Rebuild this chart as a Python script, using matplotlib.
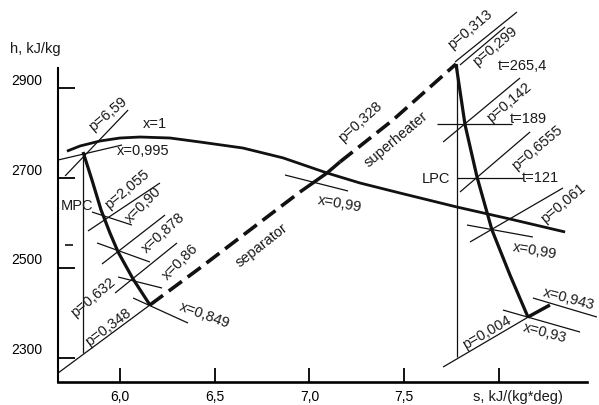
import matplotlib
matplotlib.use("Agg")
import matplotlib.pyplot as plt
from matplotlib.transforms import ScaledTranslation

plt.rcParams['font.family'] = ['Liberation Sans', 'DejaVu Sans']

# ---------------- data (s in kJ/(kg*deg), h in kJ/kg) ----------------
sat_s = [5.720, 5.789, 5.894, 6.000, 6.106, 6.264, 6.422, 6.649, 6.861, 7.093, 7.267, 7.478, 7.779, 8.059, 8.350]
sat_h = [2760.0, 2771.5, 2782.6, 2789.3, 2791.5, 2789.3, 2780.4, 2767.0, 2745.0, 2711.4, 2689.1, 2666.8, 2635.6, 2608.9, 2580.0]

x995_s = [5.673, 6.011]
x995_h = [2740.3, 2773.7]

p659_s = [5.710, 6.043]
p659_h = [2704.7, 2851.7]

mpc_s = [5.805, 5.852, 5.900, 5.947, 5.990, 6.069, 6.158]
mpc_h = [2758.1, 2695.8, 2629.0, 2577.7, 2535.4, 2475.3, 2417.4]
mpc_vert_s = [5.805, 5.805]
mpc_vert_h = [2758.1, 2310.5]

mpc_isobar_s = [[5.831, 6.211], [5.905, 6.238], [5.974, 6.301], [5.673, 6.158]]
mpc_isobar_h = [[2582.2, 2689.1], [2508.7, 2617.8], [2444.1, 2555.5], [2265.9, 2417.4]]
mpc_xline_s = [[5.852, 6.063], [5.879, 6.158], [5.990, 6.222], [6.069, 6.359]]
mpc_xline_h = [[2624.5, 2595.5], [2555.5, 2513.1], [2479.7, 2455.2], [2433.0, 2377.3]]

sep_s = [6.158, 6.422, 6.686, 6.950]
sep_h = [2417.4, 2499.8, 2584.4, 2669.0]
dry_s = [6.950, 7.093, 7.161]
dry_h = [2669.0, 2711.4, 2735.9]
sh_s = [7.161, 7.441, 7.774]
sh_h = [2735.9, 2829.4, 2954.1]
mid_x99_s = [6.871, 7.204]
mid_x99_h = [2706.9, 2671.3]

lpc_s = [7.774, 7.822, 7.885, 7.964, 8.059, 8.154]
lpc_h = [2954.1, 2818.3, 2702.5, 2584.4, 2484.2, 2390.6]
end_s = [8.154, 8.270]
end_h = [2390.6, 2417.4]
lpc_vert_s = [7.777, 7.777]
lpc_vert_h = [2954.1, 2301.6]

lpc_isobar_s = [[7.769, 8.096], [7.795, 8.033], [7.706, 8.112], [7.795, 8.165], [7.848, 8.339], [7.706, 8.165]]
lpc_isobar_h = [[2958.6, 3069.9], [2951.9, 3036.5], [2780.4, 2922.9], [2669.0, 2802.7], [2557.7, 2678.0], [2279.3, 2392.9]]
lpc_isotherm_s = [[7.674, 8.070], [7.779, 8.127]]
lpc_isotherm_h = [[2820.5, 2820.5], [2700.2, 2700.2]]
lpc_xline_s = [[7.832, 8.180], [8.180, 8.518], [8.022, 8.429]]
lpc_xline_h = [[2595.5, 2568.8], [2433.0, 2390.6], [2406.2, 2357.2]]

dash_s = [5.711, 5.753]
dash_h = [2551.0, 2551.0]

label_text = ["x=1", "x=0,995", "p=6,59", "MPC", "p=2,055", "x=0,90", "x=0,878", "x=0,86",
              "x=0,849", "p=0,632", "p=0,348", "separator", "x=0,99", "p=0,328", "superheater",
              "p=0,313", "p=0,299", "t=265,4", "p=0,142", "t=189", "LPC", "p=0,6555", "t=121",
              "p=0,061", "x=0,99", "x=0,943", "x=0,93", "p=0,004"]
label_s = [6.185, 6.121, 5.937, 5.773, 6.037, 6.121, 6.227, 6.317,
           6.449, 5.858, 5.937, 6.750, 7.162, 7.267, 7.457,
           7.848, 7.980, 8.123, 8.054, 8.154, 7.668, 8.202, 8.218,
           8.339, 8.191, 8.371, 8.244, 7.938]
label_h = [2820.5, 2760.4, 2842.8, 2637.9, 2675.7, 2640.1, 2577.7, 2513.1,
           2395.1, 2435.2, 2368.4, 2551.0, 2642.3, 2824.9, 2784.9,
           3029.9, 2994.2, 2949.7, 2869.5, 2831.6, 2698.0, 2767.0, 2700.2,
           2644.5, 2537.6, 2430.7, 2355.0, 2355.0]
label_rot = [0, 0, 40, 0, 40, 45, 42, 45,
             -20, 40, 37, 38, -10, 42, 40,
             40, 40, 0, 40, 0, 0, 40, 0,
             40, -10, -15, -15, 30]

xticks = [6.0, 6.5, 7.0, 7.5, 8.0]
xtick_labels = ["6,0", "6,5", "7,0", "7,5", ""]
yticks = [2300, 2500, 2700, 2900]
ytick_labels = ["2300", "2500", "2700", "2900"]

# ---------------- figure ----------------
fig = plt.figure(figsize=(5.99, 4.05), dpi=100)
ax = fig.add_axes([58 / 599, 23 / 405, 529 / 599, 314 / 405])
ax.set_xlim(5.6727, 8.4657)
ax.set_ylim(2245.9, 2945.2)

K = '#111111'
THIN = 0.9

def line(s, h, lw=THIN, **kw):
    ax.plot(s, h, color=K, lw=lw, clip_on=False, solid_capstyle='butt',
            solid_joinstyle='round', **kw)

line(sat_s, sat_h, lw=2.0)
line(x995_s, x995_h)
line(p659_s, p659_h)
line(mpc_vert_s, mpc_vert_h)
line(lpc_vert_s, lpc_vert_h)
for s, h in zip(mpc_isobar_s, mpc_isobar_h):
    line(s, h)
for s, h in zip(mpc_xline_s, mpc_xline_h):
    line(s, h)
for s, h in zip(lpc_isobar_s, lpc_isobar_h):
    line(s, h)
for s, h in zip(lpc_isotherm_s, lpc_isotherm_h):
    line(s, h)
for s, h in zip(lpc_xline_s, lpc_xline_h):
    line(s, h)
line(mid_x99_s, mid_x99_h)
line(dash_s, dash_h, lw=1.2)

line(mpc_s, mpc_h, lw=2.3)
line(lpc_s, lpc_h, lw=2.3)
line(end_s, end_h, lw=2.5)
line(dry_s, dry_h, lw=2.5)
ax.plot(sep_s, sep_h, color=K, lw=2.6, dashes=(4.5, 2.0), clip_on=False)
ax.plot(sh_s, sh_h, color=K, lw=2.6, dashes=(4.5, 2.0), clip_on=False)

for t, s, h, r in zip(label_text, label_s, label_h, label_rot):
    ax.text(s, h, t, rotation=r, rotation_mode='anchor', ha='center', va='center',
            fontsize=10.5, color='#1a1a1a', clip_on=False)

# axes styling
for side in ['top', 'right']:
    ax.spines[side].set_visible(False)
ax.spines['left'].set_linewidth(1.5)
ax.spines['bottom'].set_linewidth(1.9)
ax.set_xticks(xticks)
ax.set_xticklabels(xtick_labels)
ax.set_yticks(yticks)
ax.set_yticklabels(ytick_labels)
ax.tick_params(axis='y', direction='in', length=12, width=1.3, pad=11, labelsize=10)
ax.tick_params(axis='x', direction='in', length=10, width=1.3, pad=6, labelsize=10)
off = ScaledTranslation(0, 0.09, fig.dpi_scale_trans)
for lab in ax.get_yticklabels():
    lab.set_transform(lab.get_transform() + off)

ax.text(8.101, 2212.5, "s, kJ/(kg*deg)", ha='center', va='center', fontsize=10.5,
        color='#1a1a1a', clip_on=False)
fig.text(10 / 599, (405 - 49) / 405, "h, kJ/kg", ha='left', va='center', fontsize=10.5,
         color='#1a1a1a')

fig.savefig("out.png", dpi=100, facecolor='white')
